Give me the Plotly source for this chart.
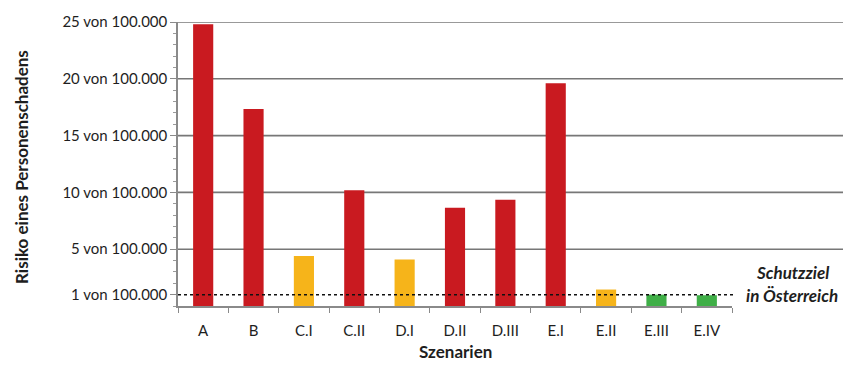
import plotly.graph_objects as go

categories = ["A", "B", "C.I", "C.II", "D.I", "D.II", "D.III", "E.I", "E.II", "E.III", "E.IV"]
values = [24.8, 17.35, 4.4, 10.2, 4.1, 8.65, 9.35, 19.6, 1.45, 1.0, 0.95]
levels = ["red", "red", "yellow", "red", "yellow", "red", "red", "red", "yellow", "green", "green"]
ytick_vals = [1, 5, 10, 15, 20, 25]
ytick_text = ["1 von 100.000", "5 von 100.000", "10 von 100.000", "15 von 100.000",
              "20 von 100.000", "25 von 100.000"]
grid_vals = [5, 10, 15, 20, 25]
target_value = 1

palette = {"red": "#C91A20", "yellow": "#F6B41A", "green": "#3FAF47"}
colors = [palette[l] for l in levels]

W, H = 843, 369
ml, mr, mt, mb = 178, 111, 18, 63
pw, ph = W - ml - mr, H - mt - mb
font = "Lato, 'Open Sans', sans-serif"

fig = go.Figure(go.Bar(x=categories, y=values, marker_color=colors, width=0.4,
                       marker_line_width=0))

x_right = (W - ml) / pw
shapes = []
for g in grid_vals:
    shapes.append(dict(type="line", xref="paper", yref="y", x0=0, x1=x_right, y0=g, y1=g,
                       line=dict(color="#777777", width=1.6), layer="below"))
shapes.append(dict(type="line", xref="paper", yref="y", x0=0, x1=1.005, y0=target_value, y1=target_value,
                   line=dict(color="#111111", width=1.5, dash="dot"), layer="above"))

def px_x(p):
    return (p - ml) / pw

def px_y(p):
    return (H - mb - p) / ph

fig.update_layout(
    width=W, height=H,
    margin=dict(l=ml, r=mr, t=mt, b=mb),
    plot_bgcolor="white", paper_bgcolor="white",
    showlegend=False,
    shapes=shapes,
    font=dict(family=font, size=15, color="#1e1e1e"),
    xaxis=dict(
        showline=True, linecolor="#8a8a8a", linewidth=1.5,
        ticks="outside", tickson="boundaries", ticklen=5, tickcolor="#8a8a8a",
        showgrid=False, tickfont=dict(size=15), ticklabelstandoff=10,
    ),
    yaxis=dict(
        range=[0, 25], tickmode="array", tickvals=ytick_vals, ticktext=ytick_text,
        showline=True, linecolor="#8a8a8a", linewidth=1.5,
        ticks="outside", ticklen=6, tickcolor="#8a8a8a",
        showgrid=False, zeroline=False, tickfont=dict(size=15),
        minor=dict(dtick=1, tick0=0, ticks="outside", ticklen=3, tickcolor="#9a9a9a", showgrid=False),
    ),
    annotations=[
        dict(text="<b>Risiko eines Personenschadens</b>", xref="paper", yref="paper",
             x=px_x(22), y=px_y(165), textangle=-90, showarrow=False,
             font=dict(size=17), xanchor="center", yanchor="middle"),
        dict(text="<b>Szenarien</b>", xref="paper", yref="paper",
             x=px_x(455), y=px_y(352), showarrow=False,
             font=dict(size=17), xanchor="center", yanchor="middle"),
        dict(text="<b><i>Schutzziel</i></b>", xref="paper", yref="paper",
             x=px_x(792), y=px_y(272), showarrow=False,
             font=dict(size=17), xanchor="center", yanchor="middle"),
        dict(text="<b><i>in Österreich</i></b>", xref="paper", yref="paper",
             x=px_x(792), y=px_y(295), showarrow=False,
             font=dict(size=17), xanchor="center", yanchor="middle"),
    ],
)

fig.write_html("out.html")
